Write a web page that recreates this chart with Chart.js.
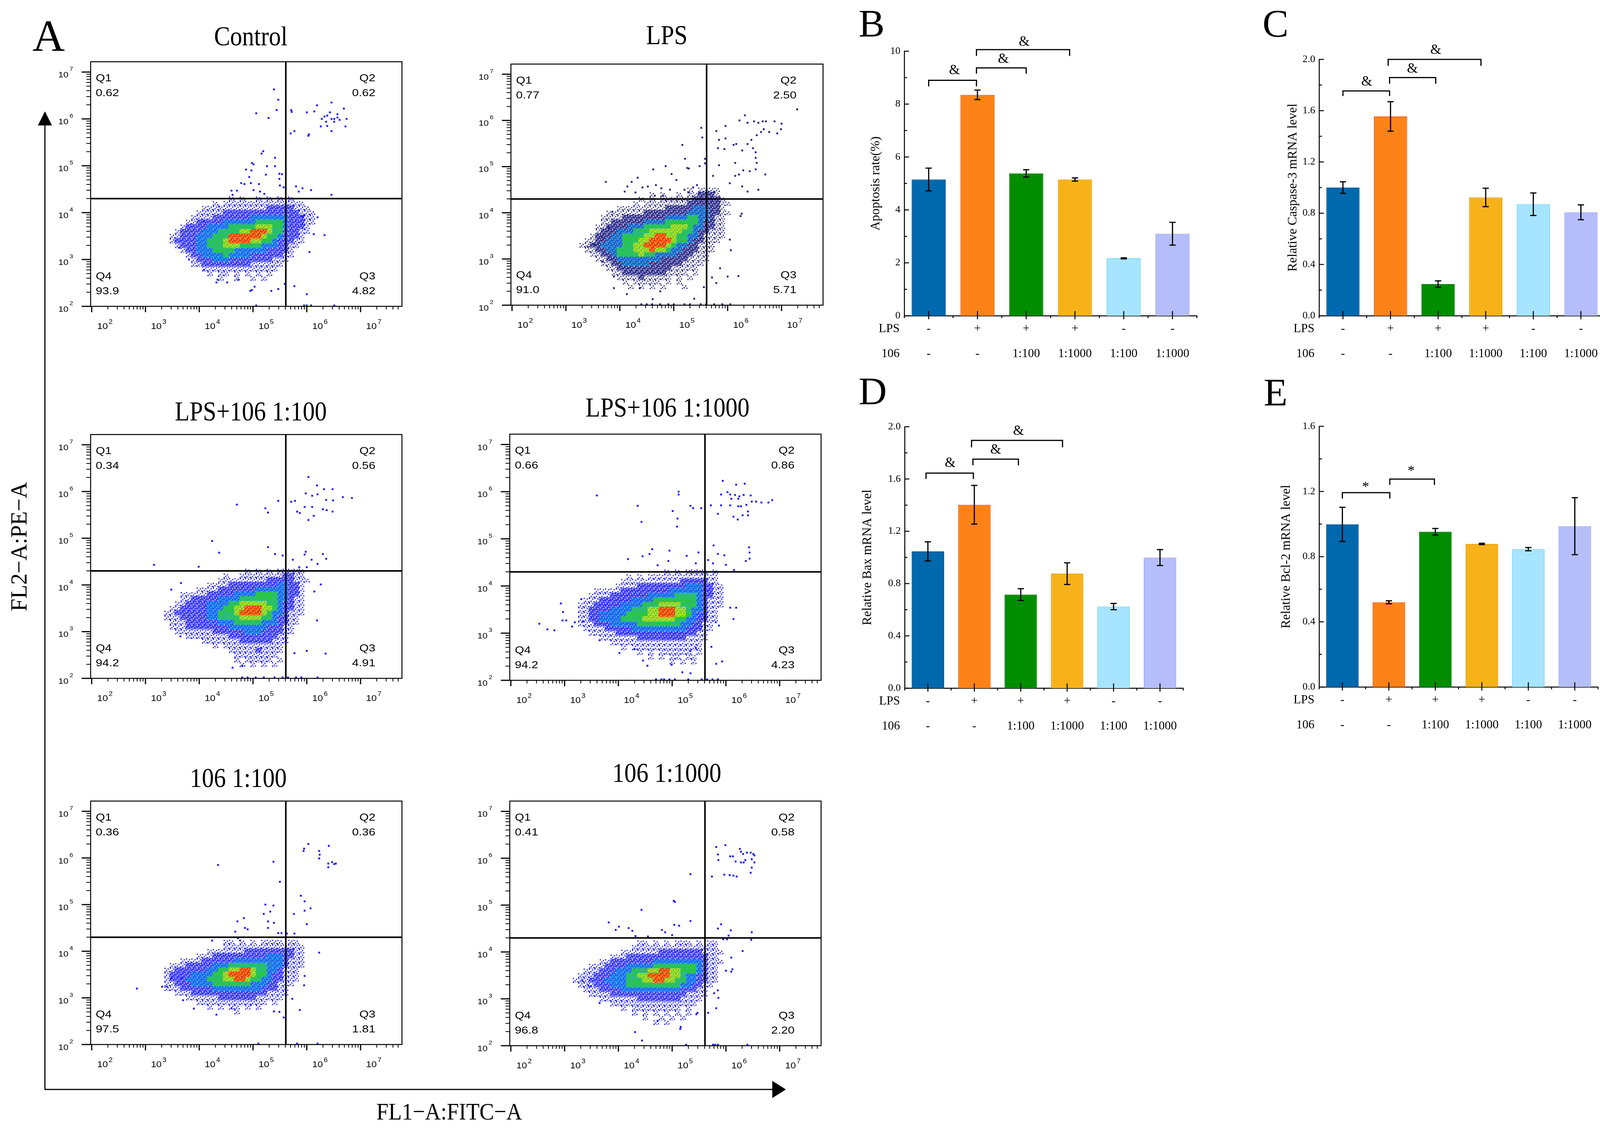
<!DOCTYPE html>
<html>
<head>
<meta charset="utf-8">
<title>Apoptosis figure</title>
<script src="https://cdn.jsdelivr.net/npm/chart.js"></script>
<style>
  html, body { margin: 0; padding: 0; background: #fff; }
  body { position: relative; width: 4137px; height: 2902px; overflow: hidden;
         font-family: "Liberation Serif", "Times New Roman", serif; color: #000; }
  canvas { position: absolute; }
  svg { position: absolute; left: 0; top: 0; }
  .tx { position: absolute; white-space: nowrap; line-height: 1; }
  .ttl { font-size: 70px; transform: translateX(-50%) scaleX(.88); }
</style>
</head>
<body>
<div class="tx" style="left:83px;top:34px;font-size:115px">A</div>
<div class="tx" style="left:2198px;top:10px;font-size:100px">B</div>
<div class="tx" style="left:3232px;top:10px;font-size:100px">C</div>
<div class="tx" style="left:2198px;top:951px;font-size:100px">D</div>
<div class="tx" style="left:3235px;top:954px;font-size:100px">E</div>

<div class="tx ttl" style="left:642px;top:58px">Control</div>
<div class="tx ttl" style="left:1707px;top:55px">LPS</div>
<div class="tx ttl" style="left:642px;top:1018px">LPS+106 1:100</div>
<div class="tx ttl" style="left:1709px;top:1008px">LPS+106 1:1000</div>
<div class="tx ttl" style="left:610px;top:1956px">106 1:100</div>
<div class="tx ttl" style="left:1707px;top:1943px">106 1:1000</div>

<div class="tx" style="left:48px;top:1399px;font-size:60px;transform:translate(-50%,-50%) rotate(-90deg) scaleX(.97)">FL2−A:PE−A</div>
<div class="tx" style="left:1150px;top:2813px;font-size:62px;transform:translateX(-50%) scaleX(.9)">FL1−A:FITC−A</div>

<svg width="4137" height="2902">
  <line x1="115" y1="2788" x2="115" y2="318" stroke="#000" stroke-width="3"/>
  <polygon points="97,321 133,321 115,285" fill="#000"/>
  <line x1="114" y1="2788" x2="1980" y2="2788" stroke="#000" stroke-width="3"/>
  <polygon points="1977,2766 1977,2810 2012,2788" fill="#000"/>
</svg>

<canvas id="fCtrl"></canvas>
<canvas id="fLps"></canvas>
<canvas id="fLps100"></canvas>
<canvas id="fLps1000"></canvas>
<canvas id="fS100"></canvas>
<canvas id="fS1000"></canvas>
<canvas id="cB"></canvas>
<canvas id="cC"></canvas>
<canvas id="cD"></canvas>
<canvas id="cE"></canvas>

<script>
// ---------- flow cytometry data (log10 of fluorescence) ----------
const X_MIN = 1.98, X_MAX = 7.77, Y_MIN = 2.0, Y_MAX = 7.22;
const GATE_X = 5.61, GATE_Y = 4.30;
// density clouds: one string per 0.1 decade row (top row at log y 4.5),
// one digit per 0.1 decade column starting at log x 3.0; 0 = empty, 6 = densest
const CELL = 0.1, CLOUD_X0 = 3.0, CLOUD_Y0 = 4.5;

const ctrlQuads = ['0.62', '0.62', '4.82', '93.9'];
const lpsQuads = ['0.77', '2.50', '5.71', '91.0'];
const lps100Quads = ['0.34', '0.56', '4.91', '94.2'];
const lps1000Quads = ['0.66', '0.86', '4.23', '94.2'];
const s100Quads = ['0.36', '0.36', '1.81', '97.5'];
const s1000Quads = ['0.41', '0.58', '2.20', '96.8'];

const ctrlCloud = [
  '', '',
  '0000000000 0000001010 0101010100 0000',
  '0000000000 0001011111 1111111111 0000',
  '0000000000 0111111111 1112222211 1000',
  '0000000000 1111122222 2222222221 1100',
  '0000000001 1112222222 3333333222 1100',
  '0000000011 2222233333 3444443222 1100',
  '0000000122 2233334444 4555443222 1000',
  '0000001222 2333444455 6665442221 1000',
  '0000011222 3334446666 6654432221 0000',
  '0000012222 3344456666 5544322211 0000',
  '0000001222 3344455544 4433322110 0000',
  '0000000122 3334444333 3332222100 0000',
  '0000000012 2333343333 2222221100 0000',
  '0000000001 2223332222 2222111000 0000',
  '0000000001 1222222222 1111110000 0000',
  '0000000000 0111111111 1111100000 0000',
  '0000000000 0010110101 0101000000 0000',
  '0000000000 0000100100 1010000000 0000'
];
const lpsCloud = [
  '0000000000 0000000000 0001011110 0000',
  '0000000000 0000001010 0101122210 0000',
  '0000000000 0000101011 1111222221 0000',
  '0000000000 0001011111 1112222221 1000',
  '0000000000 1111111112 2222333221 0000',
  '0000000011 1111122222 2223333221 1000',
  '0000000111 1222222223 3334433211 0000',
  '0000000112 2222233334 4444432211 0000',
  '0000001122 2233344444 5554332211 0000',
  '0000001222 3334445555 5544322111 0000',
  '0000012223 3444455665 5443321111 0000',
  '0000112233 3444556666 5443221110 0000',
  '0001122333 3445566665 4332211100 0000',
  '0000112233 4445556554 3322211100 0000',
  '0000011223 4444544333 3222111000 0000',
  '0000001122 3333333322 2221111000 0000',
  '0000000112 2333332222 2211110000 0000',
  '0000000011 2222222222 1111100000 0000',
  '0000000001 1222222221 1110100000 0000',
  '0000000000 1111211111 0101000000 0000',
  '0000000000 0101111101 0100000000 0000',
  '0000000000 0010101010 0010000000 0000'
];
const lps100Cloud = [
  '', '',
  '0000000000 0000000001 0101011111 0000',
  '0000000000 0000010011 1111112211 0000',
  '0000000000 0000111111 1112222211 1000',
  '0000000000 0011112222 2222233221 0000',
  '0000000000 1111222222 2333333221 0000',
  '0000000111 1122222333 3444433221 0000',
  '0000000112 2222333344 4444433211 0000',
  '0000001122 2233334455 5554432211 0000',
  '0000011222 2233344556 6655432211 0000',
  '0000112222 2233444566 6654332111 0000',
  '0000111222 2233444455 5544322110 0000',
  '0000011122 2222333444 4433322110 0000',
  '0000011122 2222223333 3332221100 0000',
  '0000001111 1112222223 3322221100 0000',
  '0000000011 1111112222 2222211000 0000',
  '0000000000 0111111122 2222111000 0000',
  '0000000000 0001011111 1111110000 0000',
  '0000000000 0000001111 1211110000 0000',
  '0000000000 0000000111 1111100000 0000',
  '0000000000 0000000101 1111010000 0000',
  '0000000000 0000000010 1010100000 0000'
];
const lps1000Cloud = [
  '', '',
  '0000000000 0000000001 0101111010 0000',
  '0000000000 0010101111 1111111110 0000',
  '0000000000 0111111111 1122222110 0000',
  '0000000000 1111222222 2223332211 0000',
  '0000001111 1222222222 3333332211 0000',
  '0000011112 2222223333 3444432211 0000',
  '0000111222 2223333444 4444432111 0000',
  '0001112222 2333344455 5544432111 0000',
  '0001122223 3334445566 6554332110 0000',
  '0001122333 3344445566 6554322110 0000',
  '0001122333 3444455555 5443322110 0000',
  '0001112223 3333444444 4433221100 0000',
  '0000111122 2223333333 3332221100 0000',
  '0000011111 2222222222 2222211000 0000',
  '0000000111 1111222222 2221111000 0000',
  '0000000001 1111111111 1111110000 0000',
  '0000000000 0101111111 1111110000 0000',
  '0000000000 0000101011 1111010000 0000',
  '0000000000 0000001010 1101100000 0000',
  '0000000000 0000000000 1010100000 0000'
];
const s100Cloud = [
  '', '', '',
  '0000000000 0000011010 1011110110 0000',
  '0000000000 0000011111 1111111111 0000',
  '0000000000 0011111112 2222222211 0000',
  '0000000000 1112222222 2223332211 0000',
  '0000000111 1222222333 3333332111 0000',
  '0000011122 2223334444 4443332111 0000',
  '0000112222 2233445566 5443321110 0000',
  '0000122223 3334456666 5443221110 0000',
  '0000122233 3344455665 4433221110 0000',
  '0000112223 3334444444 3332211100 0000',
  '0000111222 2223333333 3322211000 0000',
  '0000001112 2222222222 2221111000 0000',
  '0000000011 1111222222 2111110000 0000',
  '0000000000 1111111111 1110100000 0000',
  '0000000000 0010101101 0100000000 0000',
  '0000000000 0000000100 0000000000 0000'
];
const s1000Cloud = [
  '', '', '',
  '0000000000 0000110101 0111010110 0000',
  '0000000000 0001111111 1111111110 0000',
  '0000000000 0111111122 2222221111 0000',
  '0000000001 1122222222 2222222110 0000',
  '0000000112 2222222333 3333332111 0000',
  '0000011122 2233333444 4444432110 0000',
  '0000111222 3334445566 5544432110 0000',
  '0001112223 3344556666 5543322110 0000',
  '0011122233 3344455665 5443322110 0000',
  '0001112223 3344444444 4433221100 0000',
  '0000111222 2333333333 3322211000 0000',
  '0000011112 2222222222 2221111000 0000',
  '0000000111 1111222222 2211110000 0000',
  '0000000001 1111111111 1111100000 0000',
  '0000000000 0101111111 1101000000 0000',
  '0000000000 0001010101 0101000000 0000',
  '0000000000 0000010010 1010000000 0000',
  '0000000000 0000000101 0000000000 0000'
];

// single events outside the dense clouds, [log x, log y]
const ctrlDots = [
  [5.39,6.63],[5.47,6.41],[5.44,6.19],[5.06,6.12],[5.29,6.02],[5.71,6.19],[5.72,6.15],[6.0,6.14],[6.14,6.16],[6.19,6.29],[6.46,6.35],
  [6.28,6.0],[6.33,6.05],[6.38,6.07],[6.43,6.14],[6.46,6.0],[6.36,5.94],[6.38,5.85],[6.46,5.74],[6.26,5.84],[6.51,6.0],[6.57,6.03],
  [6.61,5.98],[6.69,6.22],[6.74,6.0],[6.72,5.84],[6.57,6.1],[6.51,5.94],[5.7,5.69],[5.77,5.74],[6.04,5.67],[6.03,5.64],
  [5.19,5.31],[5.16,5.26],[5.41,5.17],[4.98,5.06],[5.01,5.03],[4.87,4.92],[4.97,4.9],[5.26,4.99],[5.41,4.99],[5.24,4.81],[5.49,4.83],
  [5.54,4.82],[4.93,4.76],[4.78,4.63],[4.84,4.61],[4.96,4.63],[5.11,4.61],[5.49,4.72],[5.5,4.58],[5.57,4.54],[4.6,4.47],[4.7,4.47],
  [5.01,4.48],[5.13,4.45],[5.8,4.56],[5.92,4.52],[6.08,4.48],[6.46,4.38],[5.85,4.45],[5.21,4.4],[4.62,4.38],
  [4.32,2.51],[4.52,2.51],[4.34,2.57],[4.73,2.57],[4.95,2.33],[4.98,2.35],[5.03,2.42],[5.34,2.33],[5.47,2.37],[5.59,2.48],[5.77,2.43],
  [6.0,2.26],[6.05,3.16],[6.33,3.52],[3.63,3.25],[3.81,3.0],[4.09,2.78],[4.09,3.82],[4.37,4.13],[5.92,3.92],[6.13,3.54],[6.2,3.9],
  [5.06,2.02],[5.95,2.02],[6.0,2.02],[6.08,2.02],[6.51,2.02]
];
const lpsDots = [
  [7.29,6.24],[6.32,6.11],[6.22,6.0],[6.37,5.95],[6.49,5.98],[6.57,5.95],[6.65,5.98],[6.71,5.98],[6.87,5.98],[7.0,5.93],[6.99,5.81],
  [6.92,5.72],[6.77,5.75],[6.67,5.81],[6.62,5.75],[6.54,5.68],[6.44,5.58],[6.37,5.49],[6.27,5.35],[6.16,5.49],[6.11,5.47],[5.96,5.88],
  [5.79,5.77],[5.84,5.58],[5.96,5.61],[5.82,5.4],[5.94,5.38],[6.52,5.31],[6.47,5.4],[6.52,5.19],[6.54,5.08],[6.14,5.08],[5.84,5.03],
  [6.29,4.92],[6.41,4.9],[6.52,4.94],[6.7,4.83],[6.14,4.8],[6.21,4.83],[5.73,4.8],[6.04,4.64],[6.27,4.57],[6.57,4.5],[6.37,4.46],
  [5.51,5.84],[5.53,5.63],[5.16,5.47],[5.21,5.17],[5.28,4.96],[5.25,4.97],[5.48,5.01],[5.58,5.17],[5.58,5.07],[4.62,4.94],[4.85,5.01],
  [4.96,4.84],[5.05,4.71],[3.74,4.67],[4.22,4.67],[4.33,4.76],[4.09,4.46],[4.14,4.57],[4.29,4.44],[4.42,4.55],[4.52,4.57],[4.67,4.6],
  [4.77,4.53],[4.93,4.5],[5.2,4.5],[5.28,4.44],[5.36,4.55],[5.43,4.6],[5.48,4.44],[4.65,4.37],[4.8,4.37],
  [3.41,3.26],[3.53,3.31],[3.67,3.47],[3.69,2.94],[3.86,4.02],[3.79,3.68],[3.89,2.62],[3.89,2.37],[4.13,2.24],[4.37,2.37],[4.61,2.13],
  [4.75,2.3],[5.38,2.14],[5.56,2.39],[5.79,2.48],[5.71,2.6],[5.86,2.8],[6.0,2.62],[6.2,2.63],[6.06,3.19],[6.04,3.42],[6.24,3.93],[6.26,3.98],
  [4.4,2.02],[4.5,2.02],[4.6,2.02],[4.75,2.02],[4.9,2.02],[5.0,2.02],[5.2,2.02],[5.3,2.02],[5.5,2.02],[5.6,2.02],[5.75,2.02],[5.9,2.02],[6.05,2.02]
];
const lps100Dots = [
  [6.03,6.31],[6.19,6.13],[6.32,6.05],[6.48,6.05],[6.2,5.94],[6.1,5.91],[5.98,5.96],[6.36,5.82],[6.49,5.81],[6.67,5.88],[6.84,5.86],
  [5.47,5.8],[5.71,5.78],[5.78,5.8],[5.96,5.67],[6.1,5.67],[5.82,5.57],[5.87,5.54],[6.3,5.62],[6.37,5.6],[6.48,5.57],[6.13,5.48],
  [6.03,5.39],[5.23,5.64],[5.28,5.55],[4.7,5.72],[4.24,4.94],[4.37,4.69],[5.28,4.81],[5.41,4.66],[5.55,4.63],[5.98,4.71],[5.96,4.65],
  [6.3,4.66],[6.36,4.56],[5.74,4.54],[6.09,4.54],[6.2,4.45],[5.86,4.38],[6.0,4.38],[3.16,4.43],[3.99,4.39],[6.26,4.01],[6.14,3.86],
  [6.19,3.24],[6.35,2.53],[6.0,2.59],[5.77,2.54],[3.66,4.04],[3.48,3.9],[3.65,2.9],[4.62,2.23],[4.8,2.27],
  [4.8,2.02],[4.9,2.02],[5.05,2.02],[5.2,2.02],[5.4,2.02],[5.55,2.02],[5.65,2.02],[5.8,2.02],[5.9,2.02],[6.2,2.02]
];
const lps1000Dots = [
  [3.6,5.92],[4.36,5.7],[4.43,5.36],[5.12,6.0],[5.12,5.94],[5.01,5.59],[5.1,5.43],[5.09,5.26],[5.34,5.7],[5.39,5.65],[5.54,5.65],
  [5.94,6.23],[6.19,6.15],[6.35,6.17],[5.91,5.94],[6.03,5.99],[6.08,5.94],[6.17,5.93],[6.25,5.9],[6.33,5.93],[6.46,5.92],[6.1,5.85],
  [6.23,5.85],[5.72,5.71],[5.91,5.71],[6.08,5.71],[6.23,5.69],[6.28,5.69],[6.38,5.72],[6.48,5.79],[6.56,5.79],[6.66,5.77],[6.79,5.77],
  [6.86,5.82],[5.85,5.53],[6.14,5.47],[6.31,5.5],[6.41,5.5],[6.22,5.41],[6.41,5.58],
  [4.18,4.57],[4.45,4.63],[4.58,4.68],[4.63,4.78],[4.95,4.75],[4.93,4.53],[4.73,4.44],[5.27,4.64],[5.49,4.71],[5.44,4.48],[5.77,4.86],
  [5.85,4.68],[5.97,4.65],[5.67,4.55],[5.76,4.48],[6.0,4.45],[6.43,4.82],[6.44,4.71],[6.44,4.58],[6.37,4.53],[6.15,4.34],
  [2.53,3.2],[2.68,3.08],[2.81,3.06],[2.93,3.63],[2.97,3.45],[2.96,3.27],[3.03,3.27],[3.14,3.14],[3.19,3.23],[3.31,3.72],[3.34,3.25],
  [3.65,2.85],[4.02,2.58],[4.3,2.66],[4.46,2.42],[4.54,2.31],[4.99,2.33],[5.19,2.17],[5.34,2.15],[5.73,2.71],[5.82,2.35],[5.93,2.4],
  [6.08,3.54],[6.19,3.54],[6.14,3.3],[5.81,3.23],[5.87,3.16],[5.44,2.69],[5.34,2.62],
  [4.7,2.02],[4.8,2.02],[4.85,2.02],[4.95,2.02],[5.05,2.02],[5.3,2.02],[5.55,2.02],[5.65,2.02],[5.75,2.02],[5.85,2.02]
];
const s100Dots = [
  [6.03,6.3],[5.95,6.2],[5.94,6.15],[6.23,6.15],[6.24,6.07],[6.23,5.99],[6.41,6.26],[6.4,5.88],[6.4,5.8],[6.47,5.91],[6.51,5.87],
  [6.54,5.88],[5.38,5.92],[4.35,5.85],[5.5,5.49],[5.89,5.19],[5.96,5.07],[5.96,4.87],[6.07,4.92],[6.0,4.58],[5.76,4.8],[5.23,5.0],
  [5.38,4.98],[5.2,4.8],[5.32,4.85],[5.28,4.64],[5.39,4.61],[5.28,4.5],[4.71,4.64],[4.83,4.71],[4.85,4.5],[4.9,4.47],[4.67,4.42],
  [5.47,4.39],[5.53,4.39],[5.63,4.38],[5.77,4.38],[4.72,4.28],[4.76,4.23],[4.24,4.23],
  [2.84,3.2],[3.31,3.24],[3.4,3.24],[3.48,3.42],[3.67,3.42],[3.7,2.95],[3.9,2.77],[4.32,2.64],[4.6,2.78],[4.96,2.85],[5.39,2.71],
  [5.49,2.7],[5.57,2.58],[5.73,2.98],[5.87,2.74],[5.95,3.27],[5.96,3.47],[6.23,3.97],
  [5.1,2.02],[5.82,2.02],[6.2,2.02]
];
const s1000Dots = [
  [5.82,6.24],[5.85,6.08],[5.86,5.96],[5.99,6.28],[6.08,6.04],[6.13,6.04],[6.18,5.93],[6.26,6.2],[6.28,6.14],[6.32,6.09],[6.28,5.91],
  [6.33,5.91],[6.39,6.12],[6.46,6.12],[6.51,6.09],[6.53,6.06],[6.48,5.98],[6.53,5.91],[6.48,5.8],[6.46,5.69],[6.36,5.96],[5.74,5.61],
  [5.97,5.65],[6.07,5.64],[6.14,5.63],[6.2,5.61],[5.34,5.66],[5.03,5.09],[5.05,5.07],[4.43,4.9],[3.82,4.63],[3.95,4.47],[4.01,4.54],
  [4.19,4.51],[4.26,4.45],[5.34,4.66],[5.04,4.58],[5.13,4.56],[5.85,4.5],[5.91,4.59],[6.09,4.46],[6.05,4.35],[6.48,4.42],[4.81,4.47],
  [4.87,4.42],[5.0,4.36],[4.55,4.33],[4.32,4.34],[5.95,4.27],[6.02,4.27],[6.47,4.26],
  [3.33,3.39],[3.44,3.29],[3.49,3.27],[3.65,2.91],[4.31,2.29],[4.44,2.11],[4.73,2.53],[5.16,2.4],[5.15,2.36],[5.45,2.67],[5.47,2.7],
  [5.67,2.7],[5.82,2.8],[5.86,3.02],[5.85,3.18],[5.78,3.12],[6.1,3.58],[6.12,3.63],[6.0,3.6],[6.1,3.88],[6.31,4.02],
  [5.26,2.02],[5.76,2.02],[5.8,2.02],[5.85,2.02],[6.4,2.02]
];

// ---------- bar chart data ----------
const lpsRow = ['-', '+', '+', '+', '-', '-'];
const row106 = ['-', '-', '1:100', '1:1000', '1:100', '1:1000'];

const apoptosis = [5.15, 8.35, 5.38, 5.15, 2.17, 3.10];
const apoptosisErr = [0.43, 0.18, 0.14, 0.06, 0.02, 0.43];
const caspase3 = [1.00, 1.555, 0.247, 0.923, 0.870, 0.807];
const caspase3Err = [0.045, 0.115, 0.025, 0.072, 0.088, 0.058];
const bax = [1.046, 1.403, 0.716, 0.876, 0.624, 0.999];
const baxErr = [0.073, 0.148, 0.045, 0.083, 0.024, 0.061];
const bcl2 = [0.998, 0.520, 0.953, 0.878, 0.846, 0.987];
const bcl2Err = [0.105, 0.009, 0.020, 0.004, 0.010, 0.175];

// significance brackets: [from, to, top, leg end, mark, mark x, mark y]
const apoptosisSig = [
  [0, 0.98, 8.90, 8.67, '&', 0.53, 9.27],
  [0.98, 2.0, 9.37, 9.15, '&', 1.53, 9.70],
  [0.98, 2.89, 10.06, 9.82, '&', 1.96, 10.35]
];
const caspase3Sig = [
  [0, 0.98, 1.754, 1.714, '&', 0.5, 1.825],
  [0.98, 1.95, 1.858, 1.81, '&', 1.46, 1.926],
  [0.95, 2.9, 2.0, 1.95, '&', 1.95, 2.07]
];
const baxSig = [
  [-0.04, 0.98, 1.645, 1.60, '&', 0.48, 1.72],
  [0.97, 1.95, 1.752, 1.705, '&', 1.46, 1.822],
  [0.94, 2.9, 1.895, 1.842, '&', 1.95, 1.964]
];
const bcl2Sig = [
  [0, 1.02, 1.193, 1.157, '*', 0.5, 1.244],
  [1.02, 1.98, 1.276, 1.24, '*', 1.48, 1.341]
];

// ---------- layout and styles ----------
const flowFrames = {
  fCtrl: {l: 232, t: 158, r: 1029, b: 784},
  fLps: {l: 1308, t: 164, r: 2107, b: 781},
  fLps100: {l: 232, t: 1112, r: 1029, b: 1736},
  fLps1000: {l: 1305, t: 1111, r: 2102, b: 1741},
  fS100: {l: 232, t: 2050, r: 1029, b: 2673},
  fS1000: {l: 1305, t: 2050, r: 2102, b: 2676}
};
// per density level: cell background and speck colour (null = transparent)
const cloudStyle = [
  {bg: null, sp: '#1414ff'},
  {bg: '#3c3cff', sp: '#d0d0ff'},
  {bg: '#2a62f0', sp: '#22d4ea'},
  {bg: '#2ec43a', sp: '#1cb6e4'},
  {bg: '#b2dc2a', sp: '#2ec43a'},
  {bg: '#f03c14', sp: '#f0c820'}
];
const lpsCloudStyle = [
  {bg: null, sp: '#23237e'},
  {bg: '#34348e', sp: '#c8c8e8'},
  {bg: '#2a5cc8', sp: '#22d4ea'},
  {bg: '#2ec43a', sp: '#1cb6e4'},
  {bg: '#b2dc2a', sp: '#2ec43a'},
  {bg: '#f03c14', sp: '#f0c820'}
];
const speckSpots = [[0.08, 0.1], [0.58, 0.22], [0.3, 0.55], [0.78, 0.7], [0.05, 0.8], [0.45, 0.9]];

const barBoxes = {
  cB: {axisX: 2315, top: 131, bottom: 808, right: 3064, titleDist: 73},
  cC: {axisX: 3377, top: 152, bottom: 808, right: 4108, titleDist: 67},
  cD: {axisX: 2316, top: 1092, bottom: 1761, right: 3029, titleDist: 95},
  cE: {axisX: 3377, top: 1091, bottom: 1758, right: 4091, titleDist: 84}
};
const barFill = ['#0068ad', '#fd8318', '#008d00', '#f7b21a', '#a6e4ff', '#b5befb'];
const barEdge = ['#0a5c9c', '#f2641c', '#0a800a', '#f0a214', '#7ad6f6', '#a3aef4'];

Chart.defaults.color = '#000';
Chart.defaults.font.family = '"Liberation Serif", "Times New Roman", serif';

function seg(ctx, x1, y1, x2, y2) {
  ctx.beginPath(); ctx.moveTo(x1, y1); ctx.lineTo(x2, y2); ctx.stroke();
}

// text drawn slightly stretched horizontally like the cytometer export
function wideText(ctx, s, x, y, align, sx) {
  ctx.save();
  ctx.translate(x, y);
  ctx.scale(sx, 1);
  ctx.textAlign = align;
  ctx.fillText(s, 0, 0);
  ctx.restore();
}

function cellImg(st, w, h) {
  const c = document.createElement('canvas');
  c.width = w; c.height = h;
  const g = c.getContext('2d');
  if (st.bg) { g.fillStyle = st.bg; g.fillRect(0, 0, w, h); }
  g.fillStyle = st.sp;
  speckSpots.forEach(([fx, fy]) => g.fillRect(Math.round(fx * w), Math.round(fy * h), 3, 3));
  return c;
}

const SANS = '"Liberation Sans", Arial, sans-serif';

const flowDeco = {
  id: 'flowDeco',
  afterDatasetsDraw(chart, args, o) {
    const {ctx, chartArea: a, scales: {x, y}} = chart;
    ctx.save();
    ctx.strokeStyle = '#000';
    ctx.fillStyle = '#000';
    ctx.textBaseline = 'alphabetic';

    // quadrant gates
    ctx.lineWidth = 4;
    const gx = x.getPixelForValue(GATE_X), gy = y.getPixelForValue(GATE_Y);
    seg(ctx, gx, a.top, gx, a.bottom);
    seg(ctx, a.left, gy, a.right, gy);

    // frame
    ctx.lineWidth = 2.5;
    ctx.strokeRect(a.left, a.top, a.right - a.left, a.bottom - a.top);

    // y axis (log decades)
    for (let n = 2; n <= 7; n++) {
      const py = y.getPixelForValue(n);
      ctx.lineWidth = 3;
      seg(ctx, a.left - 23, py, a.left, py);
      ctx.font = '21px ' + SANS;
      wideText(ctx, '10', a.left - 57, py + 14, 'right', 1.1);
      ctx.font = '15px ' + SANS;
      wideText(ctx, String(n), a.left - 54, py - 3, 'left', 1.1);
      ctx.lineWidth = 2;
      for (let k = 2; k <= 9; k++) {
        const v = n + Math.log10(k);
        if (v > Y_MAX) break;
        const p = y.getPixelForValue(v);
        seg(ctx, a.left - 11, p, a.left, p);
      }
    }

    // x axis (log decades)
    for (let n = 1; n <= 7; n++) {
      if (n >= 2) {
        const px = x.getPixelForValue(n);
        ctx.lineWidth = 3;
        seg(ctx, px, a.bottom, px, a.bottom + 15);
        ctx.font = '22px ' + SANS;
        wideText(ctx, '10', px + 14, a.bottom + 58, 'left', 1.12);
        const w = ctx.measureText('10').width * 1.12;
        ctx.font = '16px ' + SANS;
        wideText(ctx, String(n), px + 16 + w, a.bottom + 45, 'left', 1.12);
      }
      ctx.lineWidth = 2;
      for (let k = 2; k <= 9; k++) {
        const v = n + Math.log10(k);
        if (v < X_MIN || v > X_MAX) continue;
        const p = x.getPixelForValue(v);
        seg(ctx, p, a.bottom, p, a.bottom + 8);
      }
    }

    // quadrant names and percentages
    const q = o.quads;
    ctx.font = '26px ' + SANS;
    wideText(ctx, 'Q1', a.left + 13, a.top + 50, 'left', 1.18);
    wideText(ctx, q[0], a.left + 13, a.top + 88, 'left', 1.18);
    wideText(ctx, 'Q4', a.left + 13, a.bottom - 69, 'left', 1.18);
    wideText(ctx, q[3], a.left + 13, a.bottom - 31, 'left', 1.18);
    wideText(ctx, 'Q2', a.right - 68, a.top + 50, 'right', 1.18);
    wideText(ctx, q[1], a.right - 68, a.top + 88, 'right', 1.18);
    wideText(ctx, 'Q3', a.right - 68, a.bottom - 69, 'right', 1.18);
    wideText(ctx, q[2], a.right - 68, a.bottom - 31, 'right', 1.18);
    ctx.restore();
  }
};

function flowChart(id, cloud, dots, quads, style) {
  const f = flowFrames[id];
  const pad = {left: 120, top: 30, right: 30, bottom: 80};
  const cv = document.getElementById(id);
  cv.width = f.r - f.l + pad.left + pad.right;
  cv.height = f.b - f.t + pad.top + pad.bottom;
  cv.style.left = (f.l - pad.left) + 'px';
  cv.style.top = (f.t - pad.top) + 'px';

  const cw = Math.ceil((f.r - f.l) / (X_MAX - X_MIN) * CELL) + 1;
  const ch = Math.ceil((f.b - f.t) / (Y_MAX - Y_MIN) * CELL) + 1;
  const sets = style.map((st, i) => ({
    data: [], pointStyle: cellImg(st, cw, ch), pointRadius: 5, order: 6 - i
  }));
  cloud.forEach((row, j) => {
    row.replace(/ /g, '').split('').forEach((c, i) => {
      const lvl = +c;
      if (lvl > 0) sets[lvl - 1].data.push({x: CLOUD_X0 + CELL * i, y: CLOUD_Y0 - CELL * j});
    });
  });
  sets.push({
    data: dots.map(([x, y]) => ({x, y})),
    pointStyle: 'rect', pointRadius: 3.3, borderWidth: 0,
    backgroundColor: style[0].sp, order: -1
  });

  new Chart(cv, {
    type: 'scatter',
    data: {datasets: sets},
    options: {
      responsive: false, animation: false, devicePixelRatio: 1, events: [],
      layout: {padding: pad},
      scales: {
        x: {type: 'linear', min: X_MIN, max: X_MAX, display: false},
        y: {type: 'linear', min: Y_MIN, max: Y_MAX, display: false}
      },
      plugins: {legend: {display: false}, tooltip: {enabled: false}, flowDeco: {quads}}
    },
    plugins: [flowDeco]
  });
}

flowChart('fCtrl', ctrlCloud, ctrlDots, ctrlQuads, cloudStyle);
flowChart('fLps', lpsCloud, lpsDots, lpsQuads, lpsCloudStyle);
flowChart('fLps100', lps100Cloud, lps100Dots, lps100Quads, cloudStyle);
flowChart('fLps1000', lps1000Cloud, lps1000Dots, lps1000Quads, cloudStyle);
flowChart('fS100', s100Cloud, s100Dots, s100Quads, cloudStyle);
flowChart('fS1000', s1000Cloud, s1000Dots, s1000Quads, cloudStyle);

// ---------- bar charts ----------
const ROW_H = 64;
const barDeco = {
  id: 'barDeco',
  afterDraw(chart, args, o) {
    const {ctx, chartArea: a, scales: {x, y}} = chart;
    const vals = chart.data.datasets[0].data;
    ctx.save();
    ctx.strokeStyle = '#000';
    ctx.fillStyle = '#000';

    // inward y ticks
    const nMinor = Math.round(o.yMax / o.yMinor);
    const per = Math.round(o.yStep / o.yMinor);
    ctx.lineWidth = 2.5;
    for (let i = 0; i <= nMinor; i++) {
      const py = y.getPixelForValue(i * o.yMinor);
      seg(ctx, a.left, py, a.left + (i % per === 0 ? 12 : 7), py);
    }
    // x ticks
    vals.forEach((v, i) => {
      const px = x.getPixelForValue(i);
      seg(ctx, px, a.bottom - 12, px, a.bottom + 9);
    });
    for (let i = 0; i <= vals.length; i++) {
      const px = x.getPixelForValue(i - 0.5);
      seg(ctx, px, a.bottom, px, a.bottom + 6);
    }

    // error bars
    ctx.lineWidth = 3;
    vals.forEach((v, i) => {
      const px = x.getPixelForValue(i);
      const hi = y.getPixelForValue(v + o.errs[i]);
      const lo = y.getPixelForValue(v - o.errs[i]);
      seg(ctx, px, hi, px, lo);
      seg(ctx, px - 8, hi, px + 8, hi);
      seg(ctx, px - 8, lo, px + 8, lo);
    });

    // significance brackets
    ctx.lineWidth = 3;
    o.sig.forEach(([x0, x1, top, leg, mark, mx, my]) => {
      const p0 = x.getPixelForValue(x0), p1 = x.getPixelForValue(x1);
      const pt = y.getPixelForValue(top), pl = y.getPixelForValue(leg);
      ctx.beginPath();
      ctx.moveTo(p0, pl); ctx.lineTo(p0, pt); ctx.lineTo(p1, pt); ctx.lineTo(p1, pl);
      ctx.stroke();
      ctx.font = '36px "Liberation Serif"';
      ctx.textAlign = 'center'; ctx.textBaseline = 'middle';
      ctx.fillText(mark, x.getPixelForValue(mx), y.getPixelForValue(my) + (mark === '*' ? 8 : 0));
    });

    // row headers for the treatment table
    ctx.font = '31px "Liberation Serif"';
    ctx.textAlign = 'right'; ctx.textBaseline = 'middle';
    const r1 = a.bottom + 2 + ROW_H / 2;
    ctx.fillText('LPS', a.left - 12, r1);
    ctx.fillText('106', a.left - 12, r1 + ROW_H);
    ctx.restore();
  }
};

function barChart(id, values, errs, sig, yMax, yStep, yMinor, decimals, title) {
  const b = barBoxes[id];
  const yW = 150, xH = 130, padTop = 110, padRight = 20;
  const cv = document.getElementById(id);
  cv.width = b.right - b.axisX + yW + padRight;
  cv.height = b.bottom - b.top + padTop + xH;
  cv.style.left = (b.axisX - yW) + 'px';
  cv.style.top = (b.top - padTop) + 'px';
  const titleSize = 33, lh = titleSize * 1.2;

  new Chart(cv, {
    type: 'bar',
    data: {
      labels: lpsRow.map((l, i) => [l, row106[i]]),
      datasets: [{
        data: values, backgroundColor: barFill, borderColor: barEdge, borderWidth: 2,
        barPercentage: 0.7, categoryPercentage: 1
      }]
    },
    options: {
      responsive: false, animation: false, devicePixelRatio: 1, events: [],
      layout: {padding: {left: 0, top: padTop, right: padRight, bottom: 0}},
      scales: {
        x: {
          grid: {display: false, drawTicks: false},
          border: {display: true, color: '#000', width: 2.5},
          ticks: {autoSkip: false, maxRotation: 0, minRotation: 0, padding: 2,
                  font: {size: 31, lineHeight: ROW_H / 31}},
          afterFit: s => { s.height = xH; }
        },
        y: {
          min: 0, max: yMax,
          grid: {display: false, drawTicks: false},
          border: {display: true, color: '#000', width: 2.5},
          ticks: {stepSize: yStep, padding: 10, font: {size: 26},
                  callback: v => Number(v).toFixed(decimals)},
          title: {display: true, text: title, font: {size: titleSize},
                  padding: {top: yW - b.titleDist - lh / 2, bottom: 0}},
          afterFit: s => { s.width = yW; }
        }
      },
      plugins: {
        legend: {display: false}, tooltip: {enabled: false},
        barDeco: {errs, sig, yMax, yStep, yMinor}
      }
    },
    plugins: [barDeco]
  });
}

barChart('cB', apoptosis, apoptosisErr, apoptosisSig, 10, 2, 1, 0, 'Apoptosis rate(%)');
barChart('cC', caspase3, caspase3Err, caspase3Sig, 2.0, 0.4, 0.2, 1, 'Relative Caspase-3 mRNA level');
barChart('cD', bax, baxErr, baxSig, 2.0, 0.4, 0.2, 1, 'Relative Bax mRNA level');
barChart('cE', bcl2, bcl2Err, bcl2Sig, 1.6, 0.4, 0.2, 1, 'Relative Bcl-2 mRNA level');
</script>
</body>
</html>
